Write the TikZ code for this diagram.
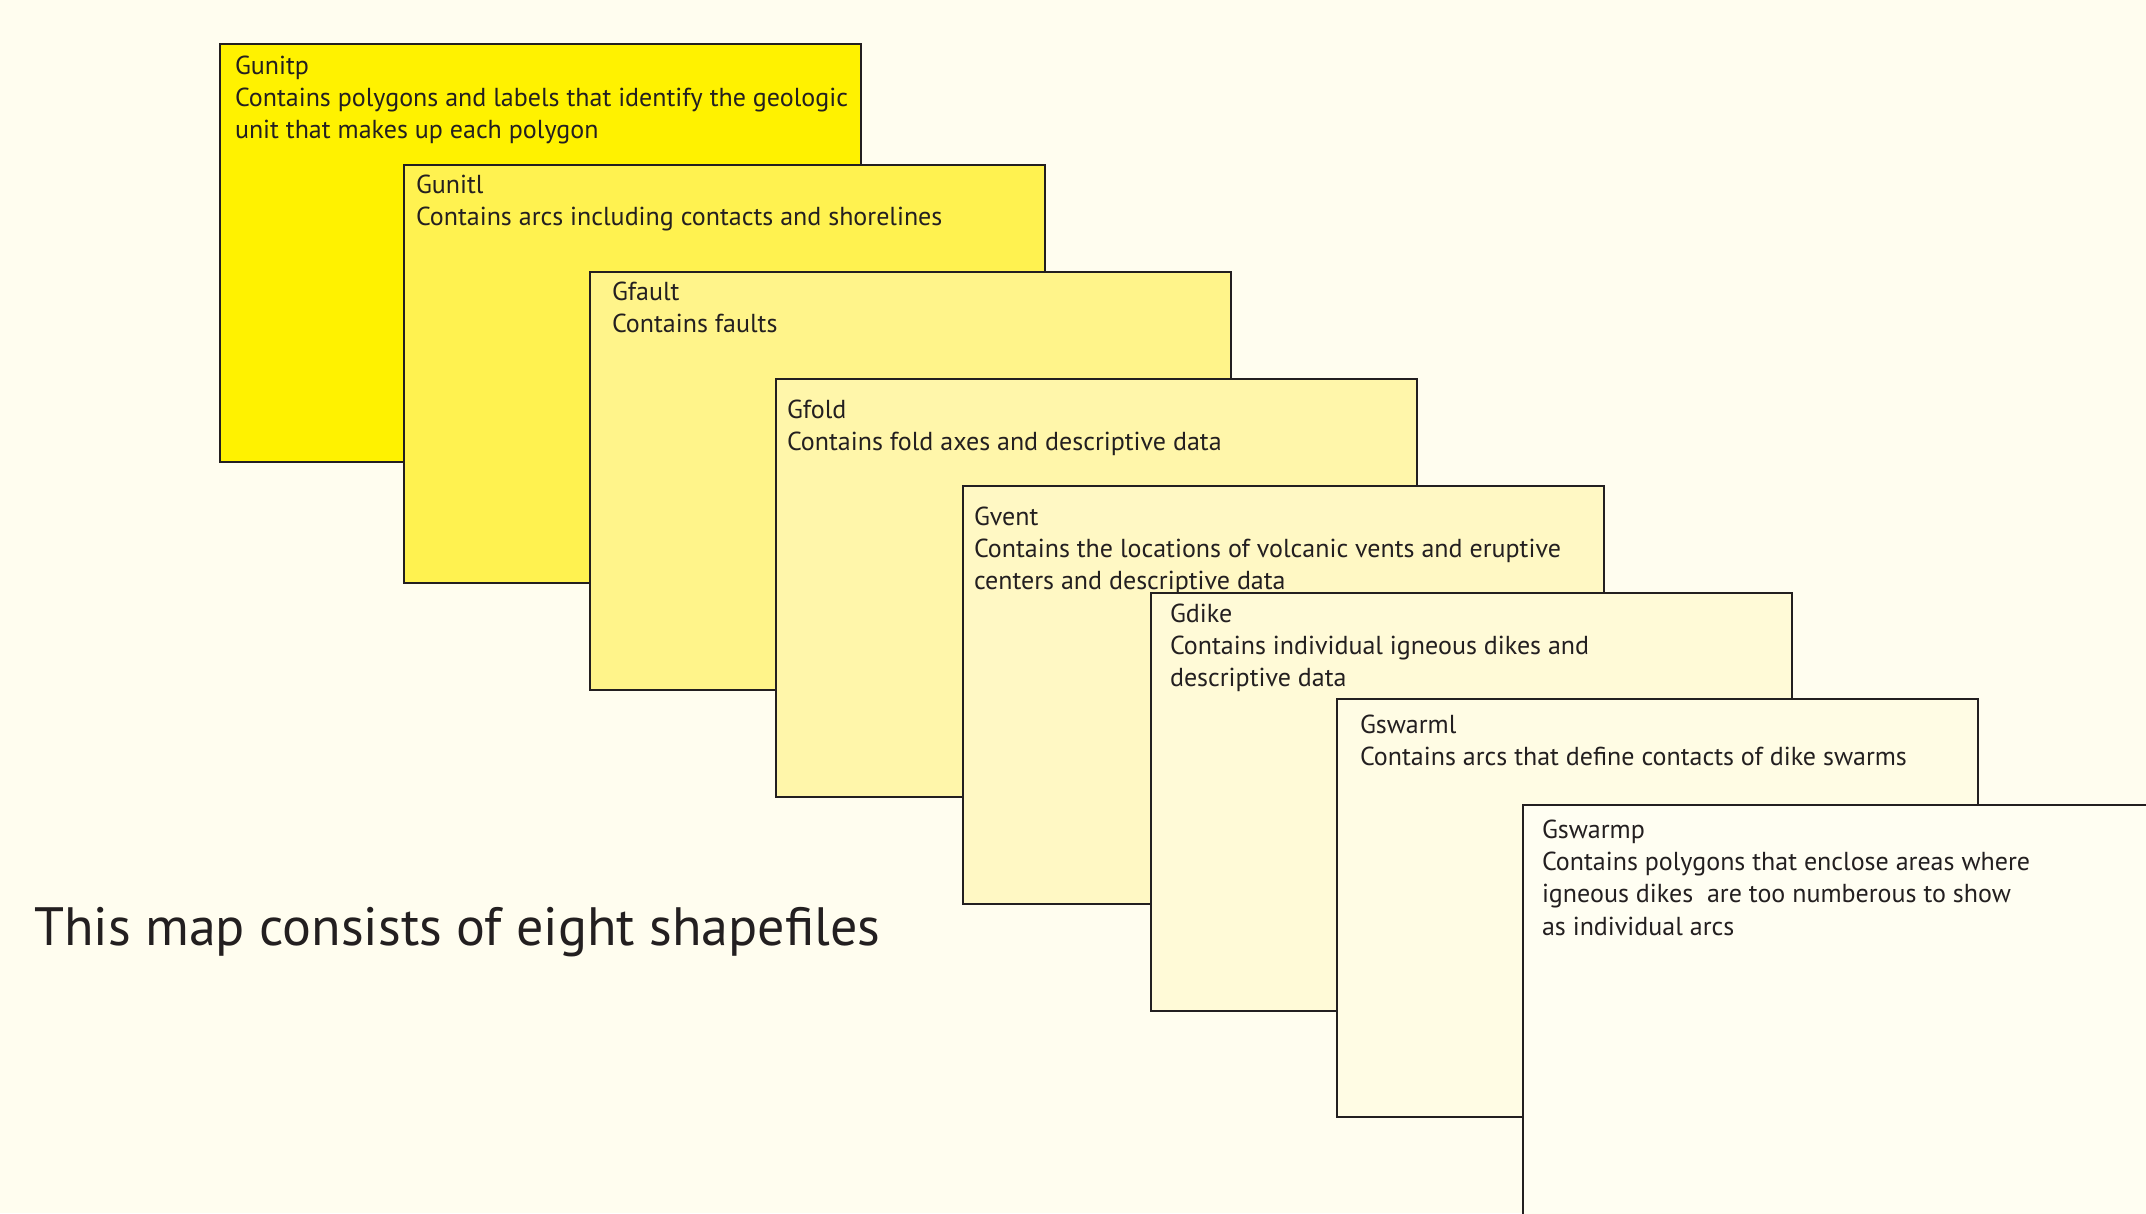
\documentclass[tikz,border=0pt]{standalone}
\usepackage{fontspec}
\setmainfont{PT Sans}
\begin{document}
\begin{tikzpicture}[x=1pt,y=-1pt,
  box/.style={draw=ink, line width=2.5pt, anchor=north west, minimum width=641pt, minimum height=418pt, inner sep=0pt, outer sep=0pt},
  txt/.style={anchor=north west, inner sep=0pt, outer sep=0pt, align=left, text=ink, font=\fontsize{26}{32.2}\selectfont}]
\definecolor{ink}{HTML}{231F20}
\definecolor{bg}{HTML}{FFFDEF}
\definecolor{c1}{HTML}{FFF200}
\definecolor{c2}{HTML}{FFF250}
\definecolor{c3}{HTML}{FFF48A}
\definecolor{c4}{HTML}{FFF6AA}
\definecolor{c5}{HTML}{FFF8C4}
\definecolor{c6}{HTML}{FFFAD7}
\definecolor{c7}{HTML}{FFFCE4}
\definecolor{c8}{HTML}{FFFEF2}
\useasboundingbox (0,0) rectangle (2146,1213);
\clip (0,0) rectangle (2146,1213);
\fill[bg] (0,0) rectangle (2146,1213);
\node[box, fill=c1] (b1) at (220,44) {};
\node[txt] (t1) at (235,56) {Gunitp\\Contains polygons and labels that identify the geologic\\unit that makes up each polygon};
\node[box, fill=c2] (b2) at (404,165) {};
\node[txt] (t2) at (416,175) {Gunitl\\Contains arcs including contacts and shorelines};
\node[box, fill=c3] (b3) at (590,272) {};
\node[txt] (t3) at (612,282) {Gfault\\Contains faults};
\node[box, fill=c4] (b4) at (776,379) {};
\node[txt] (t4) at (787,400) {Gfold\\Contains fold axes and descriptive data};
\node[box, fill=c5] (b5) at (963,486) {};
\node[txt] (t5) at (974,507) {Gvent\\Contains the locations of volcanic vents and eruptive\\centers and descriptive data};
\node[box, fill=c6] (b6) at (1151,593) {};
\node[txt] (t6) at (1170,604) {Gdike\\Contains individual igneous dikes and\\descriptive data};
\node[box, fill=c7] (b7) at (1337,699) {};
\node[txt] (t7) at (1360,715) {Gswarml\\Contains arcs that define contacts of dike swarms};
\node[box, fill=c8, minimum width=680pt, minimum height=460pt] (b8) at (1523,805) {};
\node[txt] (t8) at (1542,820) {Gswarmp\\Contains polygons that enclose areas where\\igneous dikes \ are too numberous to show\\as individual arcs};
\node[anchor=base west, inner sep=0pt, text=ink, font=\fontsize{54}{60}\selectfont] (title) at (34,945) {This map consists of eight shapefiles};
\end{tikzpicture}
\end{document}
